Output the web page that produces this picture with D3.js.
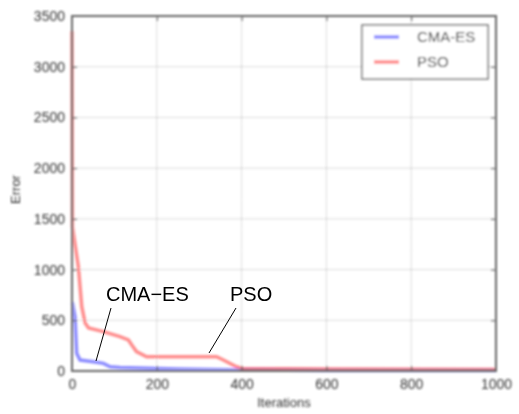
<!doctype html>
<html>
<head>
<meta charset="utf-8">
<script src="https://d3js.org/d3.v7.min.js"></script>
<style>
  body { margin: 0; background: #fff; }
  text { font-family: "Liberation Sans", Arial, sans-serif; }
</style>
</head>
<body>
<svg width="519" height="414"></svg>
<script>
// data
var cmaIter = [0, 1, 7, 11, 19, 50, 74, 90, 113, 250, 400, 600, 1000];
var cmaErr  = [670, 667, 536, 174, 108, 92, 75, 42, 35, 20, 10, 6, 5];
var psoIter = [0, 1, 15, 23, 31, 39, 74, 113, 133, 141, 152, 176, 341, 357, 388, 404, 600, 1000];
var psoErr  = [3350, 1420, 1028, 634, 473, 424, 388, 339, 306, 256, 192, 141, 141, 108, 42, 25, 20, 15];
var xTicks = [0, 200, 400, 600, 800, 1000];
var yTicks = [0, 500, 1000, 1500, 2000, 2500, 3000, 3500];
var seriesNames = ["CMA-ES", "PSO"];

var svg = d3.select("svg"),
    mLeft = 72, mTop = 16,
    width = 424, height = 355;

var defs = svg.append("defs");
defs.append("filter").attr("id", "soft")
    .append("feGaussianBlur").attr("stdDeviation", 0.8);

var x = d3.scaleLinear().domain([0, 1000]).range([0, width]);
var y = d3.scaleLinear().domain([0, 3500]).range([height, 0]);

var g = svg.append("g")
    .attr("transform", "translate(" + mLeft + "," + mTop + ")")
    .attr("filter", "url(#soft)");

// grid
g.selectAll(".gx").data(xTicks.slice(1, -1)).enter().append("line")
    .attr("x1", function(d) { return x(d); }).attr("x2", function(d) { return x(d); })
    .attr("y1", 0).attr("y2", height)
    .attr("stroke", "#999").attr("stroke-dasharray", "1,2");
g.selectAll(".gy").data(yTicks.slice(1, -1)).enter().append("line")
    .attr("y1", function(d) { return y(d); }).attr("y2", function(d) { return y(d); })
    .attr("x1", 0).attr("x2", width)
    .attr("stroke", "#999").attr("stroke-dasharray", "1,2");

// lines
var line = d3.line()
    .x(function(d) { return x(d[0]); })
    .y(function(d) { return y(d[1]); });

g.append("path")
    .datum(cmaIter.map(function(d, i) { return [d, cmaErr[i]]; }))
    .attr("d", line).attr("fill", "none")
    .attr("stroke", "blue").attr("stroke-opacity", 0.45).attr("stroke-width", 3.5);
g.append("path")
    .datum(psoIter.map(function(d, i) { return [d, psoErr[i]]; }))
    .attr("d", line).attr("fill", "none")
    .attr("stroke", "red").attr("stroke-opacity", 0.45).attr("stroke-width", 3.5);

// axes with inside ticks on all four sides
function styleAxis(sel) {
    sel.select(".domain").remove();
    sel.selectAll("line").attr("stroke", "#555");
    sel.selectAll("text").attr("fill", "#333").attr("font-size", "14px")
       .attr("font-family", "Liberation Sans, Arial, sans-serif");
}
var fmt = d3.format("d");
g.append("g").attr("transform", "translate(0," + height + ")")
    .call(d3.axisBottom(x).tickValues(xTicks).tickFormat(fmt).tickSizeInner(-5).tickPadding(8))
    .call(styleAxis);
g.append("g")
    .call(d3.axisLeft(y).tickValues(yTicks).tickFormat(fmt).tickSizeInner(-5).tickPadding(7))
    .call(styleAxis);
g.append("g")
    .call(d3.axisTop(x).tickValues(xTicks).tickSizeInner(-5).tickFormat(""))
    .call(styleAxis);
g.append("g").attr("transform", "translate(" + width + ",0)")
    .call(d3.axisRight(y).tickValues(yTicks).tickSizeInner(-5).tickFormat(""))
    .call(styleAxis);

g.append("rect").attr("width", width).attr("height", height)
    .attr("fill", "none").attr("stroke", "#666").attr("stroke-width", 2);

// axis labels
g.append("text").attr("x", width / 2).attr("y", height + 36)
    .attr("text-anchor", "middle").attr("font-size", "13px").attr("fill", "#333")
    .text("Iterations");
g.append("text").attr("transform", "translate(-52," + (height / 2 - 4) + ") rotate(-90)")
    .attr("text-anchor", "middle").attr("font-size", "13px").attr("fill", "#333")
    .text("Error");

// legend
var lg = g.append("g").attr("transform", "translate(" + (width - 134) + ",9)");
lg.append("rect").attr("width", 126).attr("height", 54)
    .attr("fill", "#fff").attr("stroke", "#444").attr("stroke-width", 1.2);
var colors = ["blue", "red"];
seriesNames.forEach(function(name, i) {
    lg.append("line").attr("x1", 12).attr("x2", 37)
        .attr("y1", 12 + i * 25).attr("y2", 12 + i * 25)
        .attr("stroke", colors[i]).attr("stroke-opacity", 0.45).attr("stroke-width", 3.5);
    lg.append("text").attr("x", 55).attr("y", 17 + i * 25)
        .attr("font-size", "15px").attr("fill", "#333").text(name);
});

// annotations (crisp, outside the blurred group)
var a = svg.append("g").attr("transform", "translate(" + mLeft + "," + mTop + ")");
a.append("text").attr("x", 106 - mLeft).attr("y", 301 - mTop)
    .attr("font-size", "20px").attr("fill", "#000").text("CMA\u2212ES");
a.append("line").attr("x1", 111 - mLeft).attr("y1", 308 - mTop)
    .attr("x2", 96 - mLeft).attr("y2", 361 - mTop)
    .attr("stroke", "#000").attr("stroke-width", 1);
a.append("text").attr("x", 230 - mLeft).attr("y", 301 - mTop)
    .attr("font-size", "20px").attr("fill", "#000").text("PSO");
a.append("line").attr("x1", 236 - mLeft).attr("y1", 308 - mTop)
    .attr("x2", 209 - mLeft).attr("y2", 353 - mTop)
    .attr("stroke", "#000").attr("stroke-width", 1);
</script>
</body>
</html>
